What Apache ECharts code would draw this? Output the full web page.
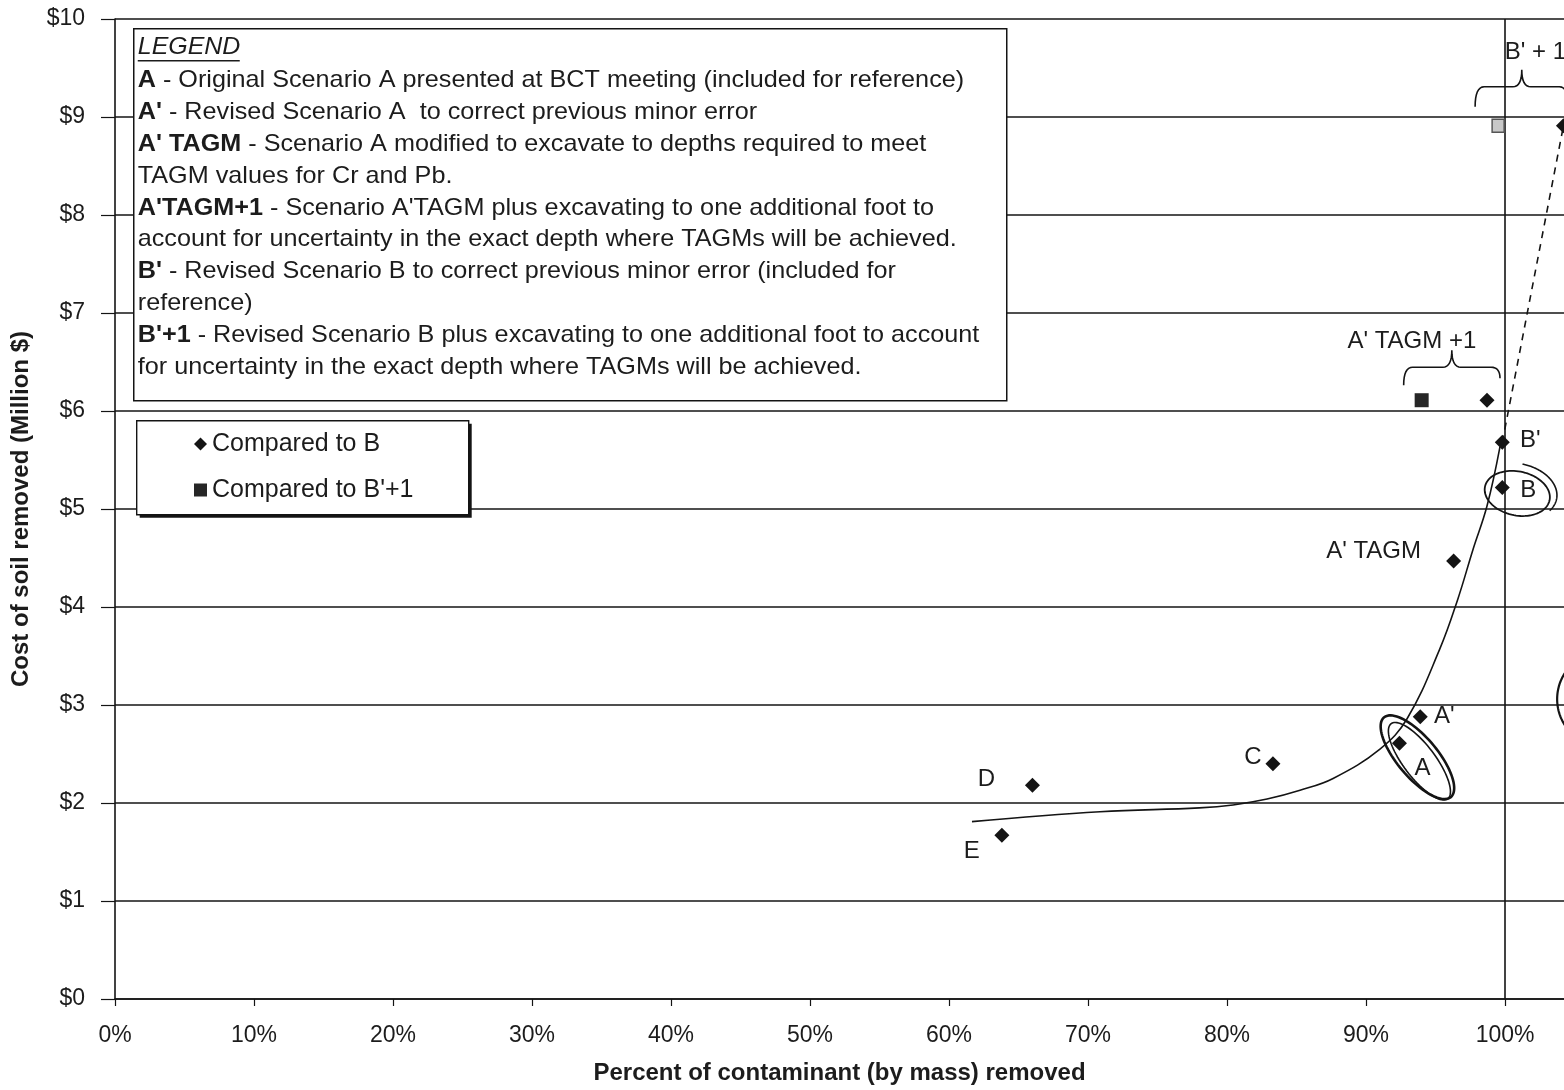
<!DOCTYPE html>
<html>
<head>
<meta charset="utf-8">
<script src="https://cdn.jsdelivr.net/npm/echarts@6/dist/echarts.min.js"></script>
<style>
  html, body { margin: 0; padding: 0; background: #fff; }
  #chart { width: 1564px; height: 1090px; }
</style>
</head>
<body>
<div id="chart"></div>
<script>
// ---- Data -------------------------------------------------------------
// Scenarios compared to B (diamonds)
const scenarioNames   = ['E', 'D', 'C', 'A', "A'", "A' TAGM", 'B', "B'", "A'TAGM+1", "B'+1"];
const scenarioPercent = [63.8, 66.0, 83.3, 92.4, 93.9, 96.3, 99.8, 99.8, 98.7, 104.2];
const scenarioCost    = [1.67, 2.18, 2.40, 2.61, 2.88, 4.47, 5.22, 5.68, 6.11, 8.91];

// Scenarios compared to B'+1 (squares)
const altNames   = ["A'TAGM+1", "B'+1"];
const altPercent = [94.0, 99.5];
const altCost    = [6.11, 8.91];

// Hand-drawn trend curve
const trendPercent = [61.65, 70.86, 78.0, 80.43, 82.88, 85.25, 87.63, 91.0, 92.95, 95.3, 96.6, 97.7, 98.7, 99.64];
const trendCost    = [1.81, 1.91, 1.95, 1.98, 2.04, 2.13, 2.25, 2.55, 2.86, 3.57, 4.08, 4.59, 5.03, 5.64];

// Axis tick labels
const xTickLabels = ['0%', '10%', '20%', '30%', '40%', '50%', '60%', '70%', '80%', '90%', '100%'];
const yTickLabels = ['$0', '$1', '$2', '$3', '$4', '$5', '$6', '$7', '$8', '$9', '$10'];

// Legend notes
const noteTitle = 'LEGEND';
const noteLines = [
  ['A', ' - Original Scenario A presented at BCT meeting (included for reference)'],
  ["A'", ' - Revised Scenario A  to correct previous minor error'],
  ["A' TAGM", ' - Scenario A modified to excavate to depths required to meet'],
  ['', 'TAGM values for Cr and Pb.'],
  ["A'TAGM+1", " - Scenario A'TAGM plus excavating to one additional foot to"],
  ['', 'account for uncertainty in the exact depth where TAGMs will be achieved.'],
  ["B'", ' - Revised Scenario B to correct previous minor error (included for'],
  ['', 'reference)'],
  ["B'+1", ' - Revised Scenario B plus excavating to one additional foot to account'],
  ['', 'for uncertainty in the exact depth where TAGMs will be achieved.']
];

// ---- Styling ----------------------------------------------------------
const FONT = "'Liberation Sans', Arial, Helvetica, sans-serif";
const INK = '#141414';
const TEXT = '#1c1c1c';
const FS = 24;

// label placement of each scenario name, relative to its marker
const labelOffsets = {
  'E': [-30, 16], 'D': [-46, -6], 'C': [-20, -6], 'A': [23, 25],
  "A'": [24, 0], "A' TAGM": [-80, -10], 'B': [26, 3], "B'": [28, -2]
};

const idx = name => scenarioNames.indexOf(name);

const diamondData = scenarioNames.map((n, i) => {
  const off = labelOffsets[n];
  return {
    name: n,
    value: [scenarioPercent[i], scenarioCost[i]],
    label: off ? { show: true, position: 'inside', offset: off, formatter: n } : { show: false }
  };
});

const squareData = altNames.map((n, i) => ({
  name: n,
  value: [altPercent[i], altCost[i]],
  itemStyle: n === "B'+1" ? { color: '#c8c8c8', borderColor: '#555', borderWidth: 1.5, opacity: 1 } : undefined,
  symbolSize: n === "B'+1" ? [12, 13] : 14
}));

const trendData = trendPercent.map((p, i) => [p, trendCost[i]]);
const extensionData = [
  [scenarioPercent[idx("B'")], scenarioCost[idx("B'")]],
  [scenarioPercent[idx("B'+1")], scenarioCost[idx("B'+1")]]
];

// ---- Hand-drawn circles ----------------------------------------------
function loopPoints(cx, cy, rx, ry, angDeg, t0, t1) {
  const a = angDeg * Math.PI / 180, pts = [], n = 90;
  for (let i = 0; i <= n; i++) {
    const t = (t0 + (t1 - t0) * i / n) * Math.PI / 180;
    const ex = rx * Math.cos(t), ey = ry * Math.sin(t);
    pts.push([cx + ex * Math.cos(a) - ey * Math.sin(a), cy + ex * Math.sin(a) + ey * Math.cos(a)]);
  }
  return pts;
}

const circledData = [
  [scenarioPercent[idx('A')], scenarioCost[idx('A')]],
  [scenarioPercent[idx('B')], scenarioCost[idx('B')]],
  [107.2, 3.06]
];
const circleStrokes = [
  [ { dx: 18, dy: 14, rx: 52, ry: 20, ang: 50, t0: -20, t1: 345, w: 2.6 },
    { dx: 20, dy: 18, rx: 47, ry: 16, ang: 53, t0: 150, t1: 520, w: 1.6 } ],
  [ { dx: 15, dy: 6, rx: 33, ry: 22, ang: 12, t0: -60, t1: 300, w: 1.8 },
    { dx: 14, dy: 4, rx: 41, ry: 28, ang: 10, t0: -88, t1: 28, w: 1.6 } ],
  [ { dx: -2, dy: 0, rx: 46, ry: 47, ang: 0, t0: 100, t1: 270, w: 2.2 } ]
];

// ---- Braces over paired scenarios -------------------------------------
const braceData = [
  [altPercent[0], altCost[0], scenarioPercent[idx("A'TAGM+1")], scenarioCost[idx("A'TAGM+1")]],
  [altPercent[1], altCost[1], scenarioPercent[idx("B'+1")], scenarioCost[idx("B'+1")]]
];
const braceStyles = [
  { offL: -18, offR: 13, rise: 33, dropL: 18, dropR: 11, label: "A' TAGM +1", ldx: -40, ldy: -26, align: 'center' },
  { offL: -23, offR: 5, rise: 39, dropL: 20, dropR: 20, label: "B' + 1", ldx: -17, ldy: -34, align: 'left' }
];

function quad(p0, c, p1, n) {
  const out = [];
  for (let i = 1; i <= n; i++) {
    const t = i / n, u = 1 - t;
    out.push([u * u * p0[0] + 2 * u * t * c[0] + t * t * p1[0], u * u * p0[1] + 2 * u * t * c[1] + t * t * p1[1]]);
  }
  return out;
}

function bracePoints(left, right, y, s) {
  const peak = (left + right) / 2, r = 9, h = 17;
  let pts = [[left, y + s.dropL]];
  pts = pts.concat(quad([left, y + s.dropL], [left, y], [left + r, y], 8));
  pts.push([peak - r, y]);
  pts = pts.concat(quad([peak - r, y], [peak, y], [peak, y - h], 8));
  pts = pts.concat(quad([peak, y - h], [peak, y], [peak + r, y], 8));
  pts.push([right - r, y]);
  pts = pts.concat(quad([right - r, y], [right, y], [right, y + s.dropR], 8));
  return { pts, peak };
}

// ---- Chart ------------------------------------------------------------
const chart = echarts.init(document.getElementById('chart'), null, { renderer: 'canvas' });

// notes box
const noteChildren = [
  { type: 'rect', z: 100, shape: { x: 0, y: 0, width: 873, height: 372 },
    style: { fill: '#fff', stroke: INK, lineWidth: 1.5 } },
  { type: 'text', z: 101, x: 4, y: 19, scaleX: 1.04,
    style: { text: noteTitle, font: 'italic ' + FS + 'px ' + FONT, fill: TEXT, verticalAlign: 'middle' } },
  { type: 'line', z: 101, shape: { x1: 4, y1: 32, x2: 106, y2: 32 }, style: { stroke: TEXT, lineWidth: 1.5 } }
];
noteLines.forEach((ln, i) => {
  const txt = (ln[0] ? '{b|' + ln[0] + '}' : '') + '{n|' + ln[1] + '}';
  noteChildren.push({
    type: 'text', z: 101, x: 4, y: 52 + i * 31.8, scaleX: 1.05,
    style: {
      text: txt, verticalAlign: 'middle',
      rich: {
        b: { fontFamily: FONT, fontSize: FS, fontWeight: 'bold', fill: TEXT },
        n: { fontFamily: FONT, fontSize: FS, fill: TEXT }
      }
    }
  });
});

// frame behind the series legend, with its hard drop shadow
const legendFrame = [
  { type: 'rect', z: 3, shape: { x: 3, y: 3, width: 332, height: 94 }, style: { fill: INK } },
  { type: 'rect', z: 3, shape: { x: 0, y: 0, width: 332, height: 94 },
    style: { fill: '#fff', stroke: INK, lineWidth: 1.4 } }
];

const pointLabel = {
  fontFamily: FONT, fontSize: FS, color: TEXT,
  textBorderWidth: 0, textBorderColor: 'transparent', opacity: 1
};

const option = {
  animation: false,
  backgroundColor: '#fff',
  textStyle: { fontFamily: FONT },
  grid: { left: 115, right: 0, top: 19, bottom: 88, containLabel: false },
  xAxis: {
    type: 'value', min: 0, max: 104.24, interval: 10,
    name: 'Percent of contaminant (by mass) removed',
    nameLocation: 'middle', nameGap: 62,
    nameTextStyle: { fontFamily: FONT, fontSize: FS, fontWeight: 'bold', color: TEXT },
    axisLine: { show: true, onZero: false, lineStyle: { color: INK, width: 1.6 } },
    axisTick: { show: true, length: 7, lineStyle: { color: INK, width: 1.2 } },
    axisLabel: {
      fontFamily: FONT, fontSize: 23, color: TEXT, margin: 25, showMaxLabel: false,
      formatter: v => {
        const i = Math.round(v / 10);
        return (Math.abs(v - i * 10) < 1e-6 && i < xTickLabels.length) ? xTickLabels[i] : '';
      }
    },
    splitLine: { show: false }
  },
  yAxis: {
    type: 'value', min: 0, max: 10, interval: 1,
    name: 'Cost of soil removed (Million $)',
    nameLocation: 'middle', nameGap: 82,
    nameTextStyle: { fontFamily: FONT, fontSize: FS, fontWeight: 'bold', color: TEXT },
    axisLine: { show: true, lineStyle: { color: INK, width: 1.6 } },
    axisTick: { show: true, length: 14, lineStyle: { color: INK, width: 1.2 } },
    axisLabel: {
      fontFamily: FONT, fontSize: 23, color: TEXT, margin: 30,
      formatter: v => yTickLabels[Math.round(v)] ?? ''
    },
    splitLine: { show: true, lineStyle: { color: INK, width: 1.6 } }
  },
  legend: {
    orient: 'vertical', left: 136, top: 420,
    data: [
      { name: 'Compared to B', icon: 'diamond' },
      { name: "Compared to B'+1", icon: 'rect' }
    ],
    itemWidth: 13, itemHeight: 13, itemGap: 21,
    itemStyle: { opacity: 1 },
    textStyle: { fontFamily: FONT, fontSize: 25, color: TEXT },
    padding: [11.5, 20, 11.5, 58],
    selectedMode: false, z: 4
  },
  graphic: [
    { type: 'group', left: 136, top: 420, children: legendFrame },
    { type: 'group', left: 133, top: 28, children: noteChildren }
  ],
  series: [
    {
      name: 'Trend', type: 'line', data: trendData,
      smooth: 0.4, showSymbol: false, symbol: 'none',
      lineStyle: { color: INK, width: 1.6 }, silent: true, z: 3,
      markLine: {
        silent: true, symbol: 'none', label: { show: false },
        lineStyle: { color: INK, width: 1.6, type: 'solid' },
        data: [{ xAxis: 100 }]
      }
    },
    {
      name: 'Extension', type: 'line', data: extensionData,
      showSymbol: false, symbol: 'none',
      lineStyle: { color: INK, width: 1.6, type: [7, 6] }, silent: true, z: 3
    },
    {
      name: 'Compared to B', type: 'scatter', data: diamondData,
      symbol: 'diamond', symbolSize: 15,
      itemStyle: { color: INK, opacity: 1 },
      label: pointLabel,
      z: 5, silent: true
    },
    {
      name: "Compared to B'+1", type: 'scatter', data: squareData,
      symbol: 'rect',
      itemStyle: { color: '#262626', opacity: 1 },
      z: 5, silent: true
    },
    {
      name: 'Circled', type: 'custom', data: circledData, silent: true, z: 6,
      renderItem: (params, api) => {
        const p = api.coord([api.value(0), api.value(1)]);
        const strokes = circleStrokes[params.dataIndex];
        return {
          type: 'group',
          children: strokes.map(s => ({
            type: 'polyline',
            shape: { points: loopPoints(p[0] + s.dx, p[1] + s.dy, s.rx, s.ry, s.ang, s.t0, s.t1) },
            style: { stroke: INK, lineWidth: s.w, fill: null }
          }))
        };
      }
    },
    {
      name: 'Braces', type: 'custom', data: braceData, silent: true, z: 6,
      renderItem: (params, api) => {
        const s = braceStyles[params.dataIndex];
        const p1 = api.coord([api.value(0), api.value(1)]);
        const p2 = api.coord([api.value(2), api.value(3)]);
        const y = Math.min(p1[1], p2[1]) - s.rise;
        const b = bracePoints(p1[0] + s.offL, p2[0] + s.offR, y, s);
        return {
          type: 'group',
          children: [
            { type: 'polyline', shape: { points: b.pts }, style: { stroke: INK, lineWidth: 1.6, fill: null } },
            { type: 'text', x: b.peak + s.ldx, y: y + s.ldy,
              style: { text: s.label, font: FS + 'px ' + FONT, fill: TEXT, align: s.align, verticalAlign: 'middle' } }
          ]
        };
      }
    }
  ]
};

chart.setOption(option);
</script>
</body>
</html>
